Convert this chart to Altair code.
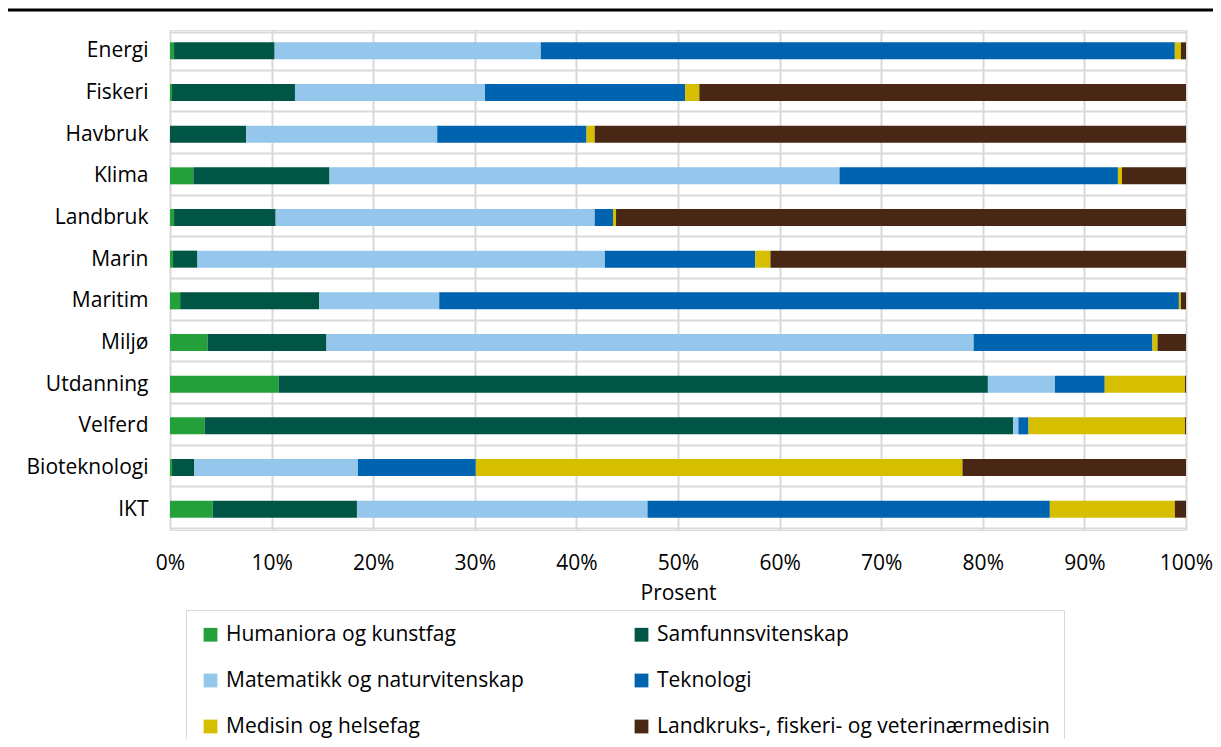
import altair as alt
import pandas as pd

kategorier = ["Energi", "Fiskeri", "Havbruk", "Klima", "Landbruk", "Marin",
              "Maritim", "Miljø", "Utdanning", "Velferd", "Bioteknologi", "IKT"]
fagfelt = ["Humaniora og kunstfag", "Samfunnsvitenskap", "Matematikk og naturvitenskap",
           "Teknologi", "Medisin og helsefag", "Landkruks-, fiskeri- og veterinærmedisin"]
farger = ["#23A03A", "#005544", "#95C6EC", "#0063AF", "#D6BE00", "#482815"]

humaniora = [0.4, 0.2, 0.0, 2.3, 0.4, 0.3, 1.0, 3.7, 10.7, 3.4, 0.2, 4.2]
samfunn = [9.9, 12.1, 7.5, 13.4, 10.0, 2.4, 13.7, 11.7, 69.8, 79.6, 2.2, 14.2]
matnat = [26.2, 18.7, 18.8, 50.2, 31.4, 40.1, 11.8, 63.7, 6.6, 0.5, 16.1, 28.6]
teknologi = [62.4, 19.7, 14.7, 27.4, 1.8, 14.8, 72.8, 17.6, 4.9, 1.0, 11.6, 39.6]
medisin = [0.6, 1.4, 0.8, 0.4, 0.3, 1.5, 0.2, 0.5, 7.9, 15.4, 47.9, 12.3]
landbruk = [0.5, 47.9, 58.2, 6.3, 56.1, 40.9, 0.5, 2.8, 0.1, 0.1, 22.0, 1.1]

serier = [humaniora, samfunn, matnat, teknologi, medisin, landbruk]
rows = []
for i, k in enumerate(kategorier):
    for j, f in enumerate(fagfelt):
        rows.append({"kategori": k, "fag": f, "idx": j, "verdi": serier[j][i]})
df = pd.DataFrame(rows)

# legend is filled column by column: reorder so it reads row by row
leg_order = [0, 2, 4, 1, 3, 5]
leg_domain = [fagfelt[i] for i in leg_order]
leg_range = [farger[i] for i in leg_order]

FONT = "Open Sans"
GRID = "#d9d9d9"
FS = 21
W = 1016

bars = alt.Chart(df).mark_bar(size=17).encode(
    x=alt.X("verdi:Q", stack="normalize",
            scale=alt.Scale(domain=[0, 1]),
            axis=alt.Axis(values=[i / 10 for i in range(11)], format=".0%",
                          title="Prosent", grid=True, gridColor=GRID, gridWidth=2,
                          domain=False, ticks=False, labelPadding=22, titlePadding=9,
                          labelFlush=False,
                          labelFontSize=FS, titleFontSize=FS, titleFontWeight="normal",
                          labelColor="#000", titleColor="#000", labelFont=FONT, titleFont=FONT)),
    y=alt.Y("kategori:N", sort=kategorier,
            axis=alt.Axis(title=None, tickBand="extent", grid=True, gridColor=GRID,
                          gridWidth=2, domain=False, ticks=False, labelPadding=22,
                          labelFontSize=FS, labelColor="#000", labelFont=FONT)),
    color=alt.Color("fag:N", scale=alt.Scale(domain=leg_domain, range=leg_range),
                    legend=alt.Legend(orient="none", legendX=16, legendY=580, columns=2,
                                      title=None, strokeColor=GRID, padding=14,
                                      columnPadding=107, rowPadding=24,
                                      symbolType="square", symbolSize=190,
                                      symbolStrokeWidth=0, labelFontSize=FS,
                                      labelFont=FONT, labelColor="#000",
                                      labelLimit=700, labelOffset=5, fillColor="white")),
    order=alt.Order("idx:Q", sort="ascending"),
)

topline = alt.Chart(pd.DataFrame({"a": [0]})).mark_rule(color="black", strokeWidth=3).encode(
    x=alt.value(-162), x2=alt.value(W + 27), y=alt.value(-20)
)

chart = alt.layer(bars, topline).properties(
    width=W, height=500,
    padding={"left": 162, "top": 22, "right": 27, "bottom": 209},
    autosize=alt.AutoSizeParams(type="none"),
).configure_view(stroke=None).configure(font=FONT)

chart.save("out.html", embed_options={"renderer": "svg", "actions": False})
